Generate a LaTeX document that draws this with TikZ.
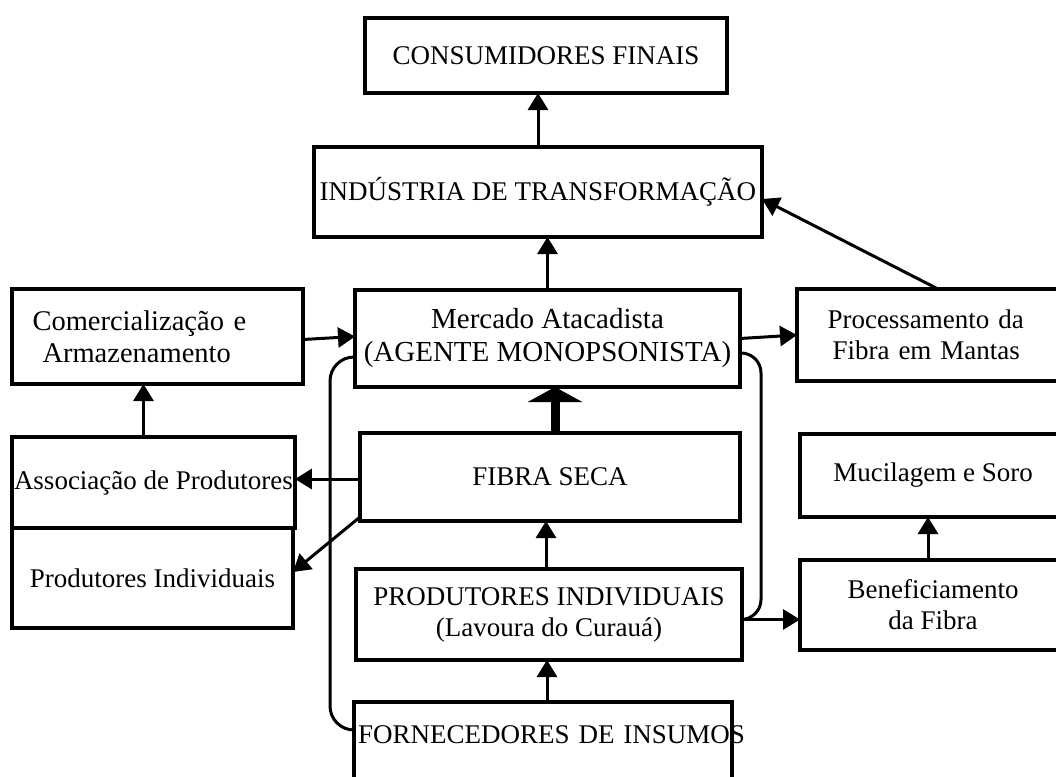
\documentclass[tikz,border=0pt]{standalone}
\usepackage{fontspec}
\setmainfont{Liberation Serif}
\usetikzlibrary{arrows.meta}

\begin{document}
\begin{tikzpicture}[x=1pt,y=-1pt,
        >={Triangle[length=17pt,width=20pt]},
        caixa/.style={draw,line width=4pt,anchor=north west,outer sep=0pt,
            inner xsep=2pt,inner ysep=0pt,align=center,
            font=\fontsize{27pt}{31pt}\selectfont},
        seta/.style={->,line width=3pt},
        ligacao/.style={line width=3pt}]
                \clip (0,0) rectangle (1056,776);
                \node [caixa,minimum width=362pt,minimum height=75pt] (cons) at (365,18) {CONSUMIDORES FINAIS};
                \node [caixa,minimum width=448pt,minimum height=90pt] (ind) at (314,147) {INDÚSTRIA DE TRANSFORMAÇÃO};
                \node [caixa,minimum width=291pt,minimum height=95pt,text width=250pt,align=left,
                    font=\fontsize{28.5pt}{32pt}\selectfont] (com) at (12,289) {Comercialização e\\\hspace*{10pt}Armazenamento};
                \node [caixa,minimum width=385pt,minimum height=97pt,
                    font=\fontsize{29pt}{33pt}\selectfont] (merc) at (355,290) {Mercado Atacadista\\(AGENTE MONOPSONISTA)};
                \node [caixa,minimum width=270pt,minimum height=92pt,text width=209pt,align=left] (proc) at (797,289) {Processamento da\\\hspace*{5pt}Fibra em Mantas};
                \node [caixa,minimum width=380pt,minimum height=88pt] (fibra) at (360,433) {FIBRA SECA};
                \node [caixa,minimum width=266pt,minimum height=83pt] (muc) at (800,434) {Mucilagem e Soro};
                \node [caixa,minimum width=281pt,minimum height=91pt] (assoc) at (12,437) {Associação de Produtores};
                \node [caixa,minimum width=281pt,minimum height=100pt] (prodl) at (12,528) {Produtores Individuais};
                \node [caixa,minimum width=386pt,minimum height=91pt] (prod) at (356,569) {PRODUTORES INDIVIDUAIS\\(Lavoura do Curauá)};
                \node [caixa,minimum width=266pt,minimum height=90pt] (benef) at (800,560) {Beneficiamento\\da Fibra};
                \node [caixa,minimum width=378pt,text width=370pt,text height=41pt,text depth=59pt] (forn) at (354,702) {\makebox[370pt][l]{FORNECEDORES DE INSUMOS}};
                \draw [seta] (ind.north) -- (ind.north |- cons.south);
                \draw [seta] (merc.north) -- (merc.north |- ind.south);
                \draw [seta] ([xshift=141pt]proc.north west) -- ([yshift=-7pt]ind.east);
                \draw [seta] ([yshift=-3pt]com.east) -- ([yshift=2pt]merc.west);
                \draw [seta] (merc.east) -- (proc.west);
                \draw [line width=9pt,-{Triangle[length=15pt,width=54pt]}] ([xshift=5pt]fibra.north) -- ([xshift=5pt]fibra.north |- merc.south);
                \draw [seta] ([yshift=-2pt]fibra.west) -- ([yshift=-2pt]fibra.west -| assoc.east);
                \draw [seta] ([yshift=4pt]fibra.south west) -- ([yshift=6pt]prodl.east);
                \draw [seta] ([xshift=-10pt]assoc.north) -- ([xshift=-10pt]assoc.north |- com.south);
                \draw [seta] ([xshift=-3pt]prod.north) -- ([xshift=-3pt]prod.north |- fibra.south);
                \draw [seta] ([xshift=4pt]forn.north) -- ([xshift=4pt]forn.north |- prod.south);
                \draw [seta] ([yshift=-5pt]prod.east) -- ([yshift=-5pt]prod.east -| benef.west);
                \draw [seta] ([xshift=-5pt]benef.north) -- ([xshift=-5pt]benef.north |- muc.south);
                \draw [ligacao,rounded corners=24pt] ([yshift=-67pt]merc.north west) -| ([xshift=-24pt,yshift=-28pt]forn.north west) -- ([yshift=-28pt]forn.north west);
                \draw [ligacao,rounded corners=20pt] ([yshift=-63pt]merc.north east) -| ([xshift=19pt,yshift=-5pt]prod.east) -- ([yshift=-5pt]prod.east);
\end{tikzpicture}
\end{document}
